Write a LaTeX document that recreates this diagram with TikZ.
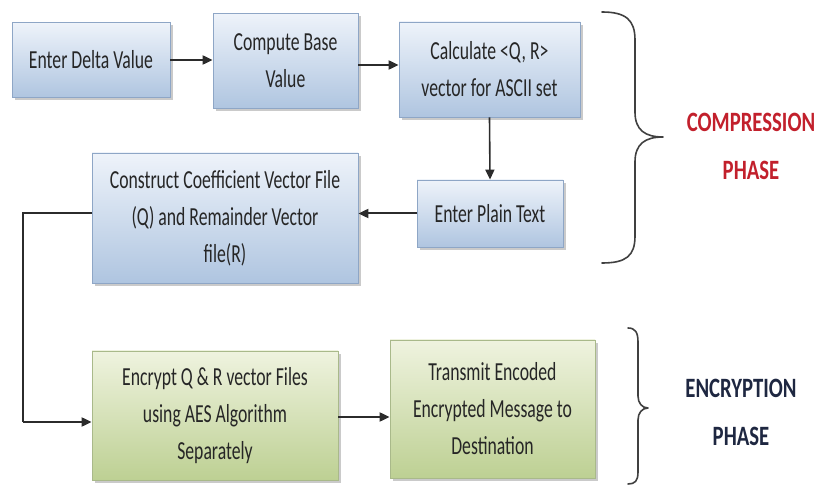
\documentclass[tikz,border=0pt]{standalone}
\usepackage{fontspec}
\usetikzlibrary{arrows.meta,shadows}
\newfontfamily\boxfont[FakeStretch=0.68]{Carlito}
\newfontfamily\labfont[FakeStretch=0.74]{Carlito}
\definecolor{bluetop}{HTML}{EEF3FA}
\definecolor{bluebot}{HTML}{AFC5E0}
\definecolor{blueedge}{HTML}{8EA6C6}
\definecolor{greentop}{HTML}{EFF3DF}
\definecolor{greenbot}{HTML}{BDD093}
\definecolor{greenedge}{HTML}{A9B98A}
\definecolor{linecol}{HTML}{2B2B2B}
\definecolor{redlab}{HTML}{C2202C}
\definecolor{navylab}{HTML}{1E2741}
\begin{document}
\begin{tikzpicture}[x=1pt,y=-1pt,
  basebox/.style={inner sep=0pt, align=center, text=black!85,
    font=\boxfont\fontsize{26}{37}\selectfont,
    drop shadow={shadow xshift=3pt, shadow yshift=-3pt, fill=black!35, opacity=0.6}},
  bluebox/.style={basebox, draw=blueedge, line width=0.8pt, top color=bluetop, bottom color=bluebot},
  greenbox/.style={basebox, draw=greenedge, line width=0.8pt, top color=greentop, bottom color=greenbot},
  conn/.style={draw=linecol, line width=2pt, -{Triangle[length=10pt,width=9pt]}},
  plain/.style={draw=linecol, line width=2pt},
  bracestyle/.style={draw=black!75, line width=1.6pt, line cap=round, line join=round},
  phaselab/.style={align=center, font=\labfont\bfseries\fontsize{28}{48}\selectfont}
]
\useasboundingbox (0,0) rectangle (820,486);

\node[bluebox, minimum width=158pt, minimum height=75pt] (b1) at (91,60) {Enter Delta Value};
\node[bluebox, minimum width=145pt, minimum height=95pt] (b2) at (285.5,61) {Compute Base\\Value};
\node[bluebox, minimum width=181pt, minimum height=95pt] (b3) at (489.5,69.5) {Calculate <Q, R>\\vector for ASCII set};
\node[bluebox, minimum width=146pt, minimum height=67pt] (b4) at (490,213.5) {Enter Plain Text};
\node[bluebox, minimum width=266pt, minimum height=130pt] (b5) at (225,218) {Construct Coefficient Vector File\\(Q) and Remainder Vector\\file(R)};
\node[greenbox, minimum width=246pt, minimum height=129pt] (b6) at (215,415.5) {Encrypt Q \& R vector Files\\using AES Algorithm\\Separately};
\node[greenbox, minimum width=205pt, minimum height=138pt] (b7) at (492.5,409) {Transmit Encoded\\Encrypted Message to\\Destination};

\coordinate (a2) at ([yshift=-4pt]b2.east);
\coordinate (a6) at ([yshift=-1.5pt]b6.east);
\draw[conn] (b1.east) -- (b2.west |- b1.east);
\draw[conn] (a2) -- (b3.west |- a2);
\draw[conn, line width=1.6pt] (b3.south) -- (b4.north);
\draw[conn] (b4.west) -- (b5.east |- b4.west);
\coordinate (c1) at (23,213.5);
\coordinate (c2) at (23,422);
\draw[plain] (b5.west |- b4.west) -- (c1) -- (c2);
\draw[conn] (c2) -- (b6.west |- c2);
\draw[conn] (a6) -- (b7.west |- a6);

% compression brace
\draw[bracestyle] (602,12) .. controls (626,12) and (635,20) .. (635,40)
  -- (635,112) .. controls (635,130) and (645,137) .. (663,137)
  .. controls (645,137) and (635,144) .. (635,162)
  -- (635,236) .. controls (635,256) and (626,263) .. (602,263);
% encryption brace
\draw[bracestyle] (628,328) .. controls (635,328) and (638,332) .. (638,342)
  -- (638,396) .. controls (638,403) and (642,408) .. (648,408)
  .. controls (642,408) and (638,413) .. (638,420)
  -- (638,472) .. controls (638,481) and (635,484) .. (628,484);

\node[phaselab, text=redlab] (lab1) at (751,146) {COMPRESSION\\PHASE};
\node[phaselab, text=navylab] (lab2) at (741,412) {ENCRYPTION\\PHASE};
\end{tikzpicture}
\end{document}
